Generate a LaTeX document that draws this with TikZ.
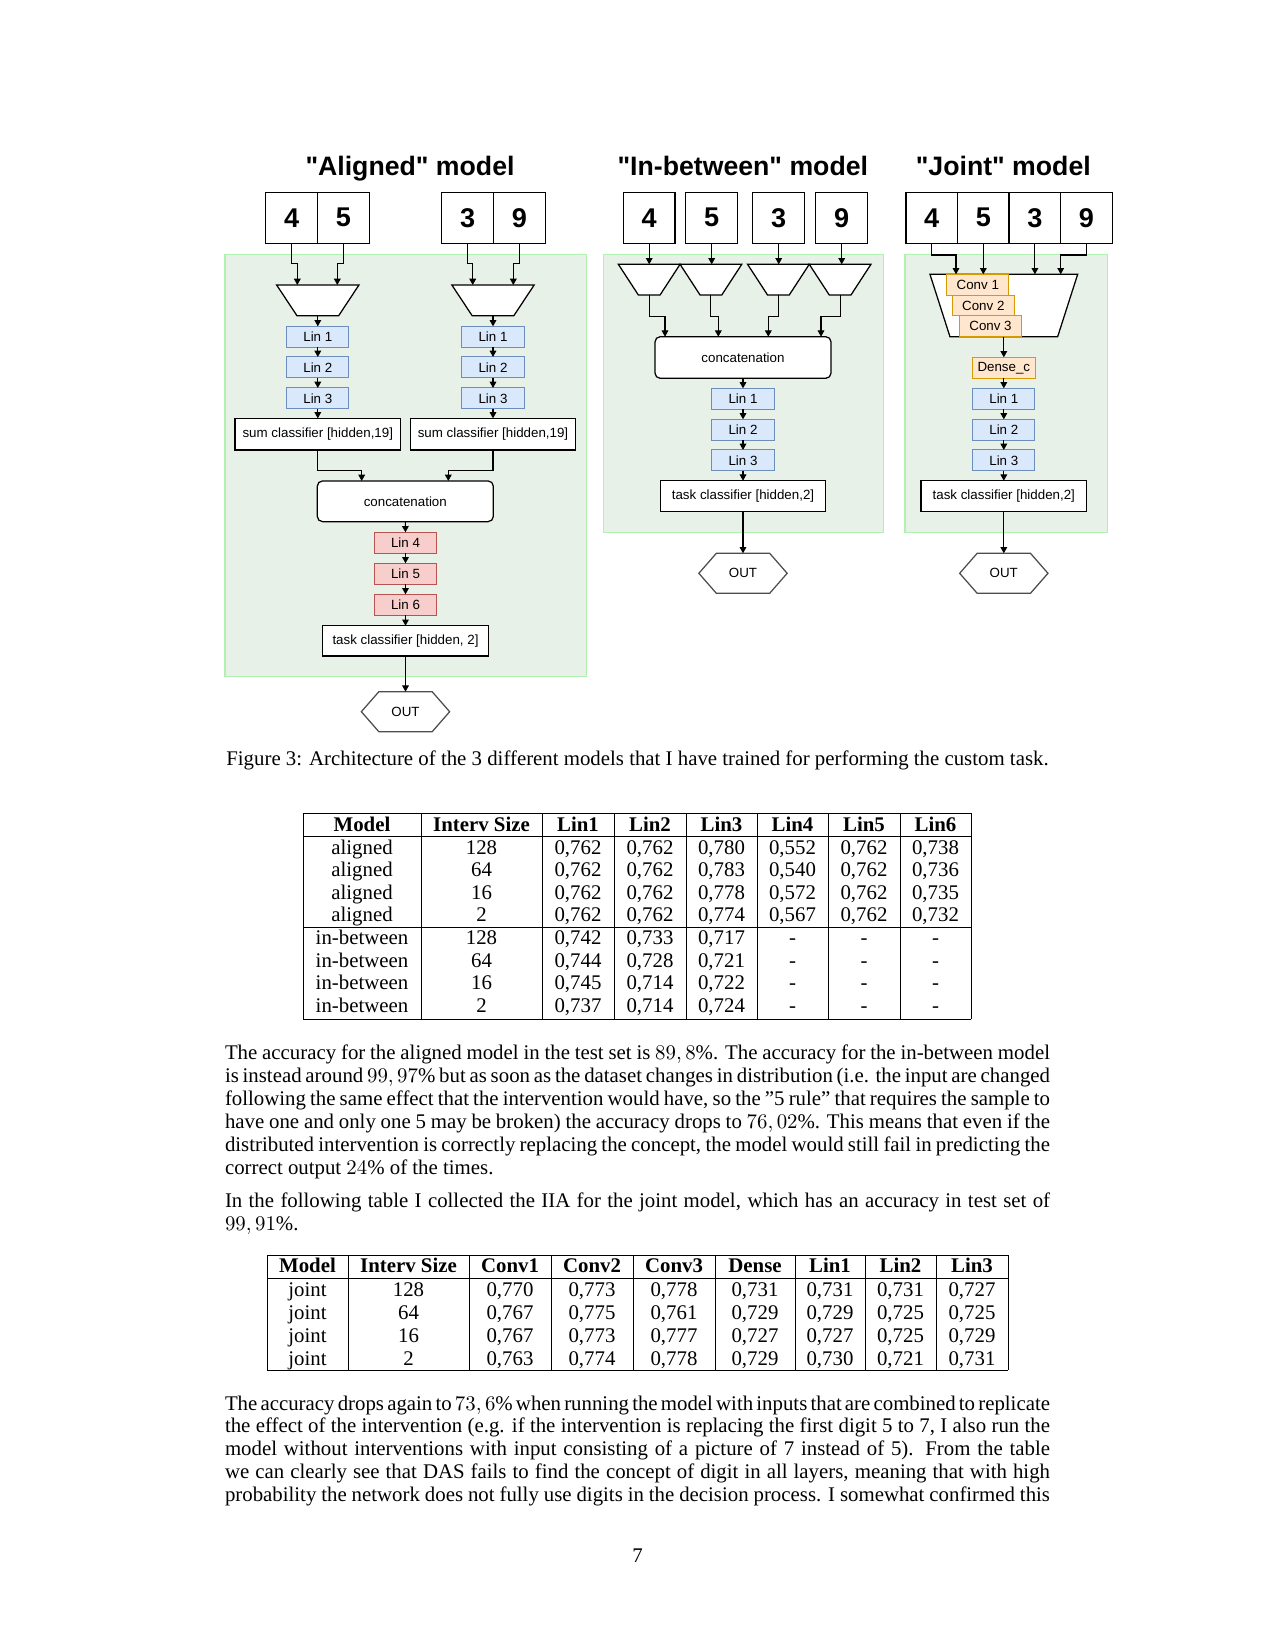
\documentclass[tikz,border=0pt]{standalone}
\usepackage{fontspec}
\setmainfont{Liberation Serif}
\newfontfamily\arialf{Liberation Sans}
\usetikzlibrary{calc,arrows.meta}
\newdimen\pxu \pxu=0.48pt
\definecolor{gfill}{HTML}{E8F1E8}
\definecolor{gborder}{HTML}{B0F0B0}
\definecolor{linbf}{HTML}{DAE8FC}
\definecolor{linbd}{HTML}{6C8EBF}
\definecolor{linrf}{HTML}{F8CECC}
\definecolor{linrd}{HTML}{B85450}
\definecolor{convf}{HTML}{FFE6CC}
\definecolor{convd}{HTML}{D79B00}
\definecolor{hexd}{HTML}{4D4D4D}
\newcommand\mytrap[2]{\draw[trapd] (#1.north west) -- (#1.north east) -- ($(#1.south east)+(-#2,0)$) -- ($(#1.south west)+(#2,0)$) -- cycle;}
\newcommand\myhex[1]{\draw[hexline] (#1.west) -- ($(#1.north west)+(17.5,0)$) -- ($(#1.north east)+(-17.5,0)$) -- (#1.east) -- ($(#1.south east)+(-17.5,0)$) -- ($(#1.south west)+(17.5,0)$) -- cycle;}
\tikzset{
  every node/.style={inner sep=0pt, outer sep=0pt},
  greenbg/.style={fill=gfill, draw=gborder, line width=0.6pt},
  cell/.style={draw=black, line width=0.6pt, fill=white, minimum width=52\pxu, minimum height=51\pxu, font=\arialf\bfseries\fontsize{13}{15}\selectfont},
  lbl/.style={font=\arialf\fontsize{6.4}{7.5}\selectfont},
  linb/.style={lbl, draw=linbd, fill=linbf, line width=0.5pt, minimum width=62.3\pxu, minimum height=20.7\pxu},
  linr/.style={lbl, draw=linrd, fill=linrf, line width=0.5pt, minimum width=62.3\pxu, minimum height=21\pxu},
  conv/.style={lbl, draw=convd, fill=convf, line width=0.5pt, minimum width=62.3\pxu, minimum height=20.7\pxu},
  wbox/.style={lbl, draw=black, fill=white, line width=0.6pt, minimum height=31\pxu},
  cbox/.style={lbl, draw=black, fill=white, line width=0.6pt, rounded corners=2.5pt, minimum width=176\pxu, minimum height=41\pxu},
  hexn/.style={lbl, minimum width=88.3\pxu, minimum height=40\pxu},
  hexline/.style={draw=hexd, line width=0.6pt},
  trapd/.style={draw=black, fill=white, line width=0.6pt},
  arr/.style={-{Triangle[length=3pt,width=3.2pt]}, line width=0.5pt},
  titl/.style={anchor=base, font=\arialf\bfseries\fontsize{12.8}{15}\selectfont},
  tc/.style={anchor=base, font=\fontsize{10}{12}\selectfont},
  th/.style={anchor=base, font=\fontsize{10}{12}\selectfont\bfseries},
  tline/.style={line width=0.4pt},
  para/.style={anchor=base west, text width=396pt, align=justify, font=\fontsize{10}{11}\selectfont},
}
\begin{document}
\begin{tikzpicture}[x=0.48pt,y=-0.48pt]
\fill[white] (0,0) rectangle (1275,1650);
\useasboundingbox (0,0) rectangle (1275,1650);

% ---------- backgrounds ----------
\path[greenbg] (225,254.3) rectangle (586.7,676.7);
\path[greenbg] (603.3,254.3) rectangle (883.3,532.3);
\path[greenbg] (905,254.3) rectangle (1107.3,532.3);

% ---------- Aligned model ----------
\node[titl] (tA) at (410,175.5) {"Aligned" model};
\node[cell] (a4) at (291.7,217.8) {4};
\node[cell] (a5) at (343.5,217.8) {5};
\node[cell] (b3) at (467.7,217.8) {3};
\node[cell] (b9) at (519.3,217.8) {9};

\node[minimum width=82.3\pxu, minimum height=30.7\pxu] (trA) at (317.8,300.35) {};
\mytrap{trA}{20.3}
\node[minimum width=82.3\pxu, minimum height=30.7\pxu] (trB) at (493,300.35) {};
\mytrap{trB}{20.3}

\draw[arr] (a4.south) -- ++(0,20) -| ($(trA.north)+(-20.5,0)$);
\draw[arr] (a5.south) -- ++(0,20) -| ($(trA.north)+(19.5,0)$);
\draw[arr] (b3.south) -- ++(0,20) -| ($(trB.north)+(-20.3,0)$);
\draw[arr] (b9.south) -- ++(0,20) -| ($(trB.north)+(20.3,0)$);

\node[linb] (aL1) at (317.8,336.7) {Lin 1};
\node[linb] (aL2) at (317.8,367.3) {Lin 2};
\node[linb] (aL3) at (317.8,398.3) {Lin 3};
\node[linb] (bL1) at (493,336.7) {Lin 1};
\node[linb] (bL2) at (493,367.3) {Lin 2};
\node[linb] (bL3) at (493,398.3) {Lin 3};
\node[wbox, minimum width=165.7\pxu, minimum height=31.7\pxu] (sumL) at (317.8,434.2) {sum classifier [hidden,19]};
\node[wbox, minimum width=165.7\pxu, minimum height=31.7\pxu] (sumR) at (493,434.2) {sum classifier [hidden,19]};

\draw[arr] (trA.south) -- (aL1.north);
\draw[arr] (aL1.south) -- (aL2.north);
\draw[arr] (aL2.south) -- (aL3.north);
\draw[arr] (aL3.south) -- (sumL.north);
\draw[arr] (trB.south) -- (bL1.north);
\draw[arr] (bL1.south) -- (bL2.north);
\draw[arr] (bL2.south) -- (bL3.north);
\draw[arr] (bL3.south) -- (sumR.north);

\node[cbox, minimum height=40.7\pxu] (concA) at (405.3,501.3) {concatenation};
\draw[arr] (sumL.south) -- ++(0,20.7) -| ($(concA.north)+(-43.6,0)$);
\draw[arr] (sumR.south) -- ++(0,20.7) -| ($(concA.north)+(43,0)$);

\node[linr] (aL4) at (405.5,542.8) {Lin 4};
\node[linr] (aL5) at (405.5,573.8) {Lin 5};
\node[linr] (aL6) at (405.5,604.8) {Lin 6};
\node[wbox, minimum width=166\pxu, minimum height=30.3\pxu] (taskA) at (405.5,640.9) {task classifier [hidden, 2]};
\node[hexn] (outA) at (405.5,711.7) {OUT};
\myhex{outA}

\draw[arr] (concA.south) -- (aL4.north);
\draw[arr] (aL4.south) -- (aL5.north);
\draw[arr] (aL5.south) -- (aL6.north);
\draw[arr] (aL6.south) -- (taskA.north);
\draw[arr] (taskA.south) -- (outA.north);

% ---------- In-between model ----------
\node[titl] (tB) at (742.8,175.5) {"In-between" model};
\node[cell, minimum width=51.7\pxu] (i4) at (649.2,217.8) {4};
\node[cell, minimum width=51.7\pxu] (i5) at (711.7,217.8) {5};
\node[cell, minimum width=51.7\pxu] (i3) at (778.7,217.8) {3};
\node[cell, minimum width=51.7\pxu] (i9) at (841.7,217.8) {9};

\node[minimum width=61.7\pxu, minimum height=30.7\pxu] (t1) at (649.2,279.65) {};
\node[minimum width=61.7\pxu, minimum height=30.7\pxu] (t2) at (710.9,279.65) {};
\node[minimum width=61.7\pxu, minimum height=30.7\pxu] (t3) at (778.4,279.65) {};
\node[minimum width=61.7\pxu, minimum height=30.7\pxu] (t4) at (840.1,279.65) {};
\mytrap{t1}{20}
\mytrap{t2}{20}
\mytrap{t3}{20}
\mytrap{t4}{20}

\draw[arr] (i4.south) -- (i4.south |- t1.north);
\draw[arr] (i5.south) -- (i5.south |- t2.north);
\draw[arr] (i3.south) -- (i3.south |- t3.north);
\draw[arr] (i9.south) -- (i9.south |- t4.north);

\node[cbox, minimum height=41.6\pxu] (concB) at (743,357.5) {concatenation};
\draw[arr] (t1.south) -- ++(0,21.7) -| ($(concB.north)+(-78,0)$);
\draw[arr] (t2.south) -- ++(0,21.7) -| ($(concB.north)+(-24.7,0)$);
\draw[arr] (t3.south) -- ++(0,21.7) -| ($(concB.north)+(25.3,0)$);
\draw[arr] (t4.south) -- ++(0,21.7) -| ($(concB.north)+(78,0)$);

\node[linb] (iL1) at (743,398.7) {Lin 1};
\node[linb] (iL2) at (743,429.7) {Lin 2};
\node[linb] (iL3) at (743,460.3) {Lin 3};
\node[wbox, minimum width=165\pxu] (taskB) at (743,496.2) {task classifier [hidden,2]};
\node[hexn] (outB) at (743,573.3) {OUT};
\myhex{outB}

\draw[arr] (concB.south) -- (iL1.north);
\draw[arr] (iL1.south) -- (iL2.north);
\draw[arr] (iL2.south) -- (iL3.north);
\draw[arr] (iL3.south) -- (taskB.north);
\draw[arr] (taskB.south) -- (outB.north);

% ---------- Joint model ----------
\node[titl] (tC) at (1003.3,175.5) {"Joint" model};
\node[cell, minimum width=51.6\pxu] (j4) at (931.7,217.8) {4};
\node[cell, minimum width=51.6\pxu] (j5) at (983.3,217.8) {5};
\node[cell, minimum width=51.6\pxu] (j3) at (1034.9,217.8) {3};
\node[cell, minimum width=51.6\pxu] (j9) at (1086.5,217.8) {9};

\node[minimum width=147.7\pxu, minimum height=62.4\pxu] (trC) at (1003.8,305.5) {};
\mytrap{trC}{20}

\draw[arr] (j4.south) -- ++(0,11.7) -| ($(trC.north)+(-47.8,0)$);
\draw[arr] (j5.south) -- (j5.south |- trC.north);
\draw[arr] (j3.south) -- (j3.south |- trC.north);
\draw[arr] (j9.south) -- ++(0,11.7) -| ($(trC.north)+(56.9,0)$);

\node[conv] (c1) at (977.8,284.7) {Conv 1};
\node[conv] (c2) at (983.3,305.5) {Conv 2};
\node[conv] (c3) at (990.5,326.3) {Conv 3};
\node[conv, minimum width=62.7\pxu, minimum height=21\pxu] (dense) at (1003.8,367.8) {Dense\_c};
\node[linb] (jL1) at (1003.8,398.7) {Lin 1};
\node[linb] (jL2) at (1003.8,429.7) {Lin 2};
\node[linb] (jL3) at (1003.8,460.3) {Lin 3};
\node[wbox, minimum width=165.7\pxu] (taskC) at (1003.8,496.2) {task classifier [hidden,2]};
\node[hexn] (outC) at (1003.8,573.3) {OUT};
\myhex{outC}

\draw[arr] (trC.south) -- (dense.north);
\draw[arr] (dense.south) -- (jL1.north);
\draw[arr] (jL1.south) -- (jL2.north);
\draw[arr] (jL2.south) -- (jL3.north);
\draw[arr] (jL3.south) -- (taskC.north);
\draw[arr] (taskC.south) -- (outC.north);

% ---------- caption ----------
\node[anchor=base, font=\fontsize{10}{12}\selectfont] (cap) at (637.5,765) {Figure 3: Architecture of the 3 different models that I have trained for performing the custom task.};

% ---------- table 1 ----------
\foreach \yy in {813,836,927,1019} \draw[tline] (303,\yy) -- (971,\yy);
\foreach \xx in {303,421,542,614,686,757,828,900,971} \draw[tline] (\xx,813) -- (\xx,1019);
\foreach \h/\xx [count=\k] in {Model/362,Interv Size/481.5,Lin1/578,Lin2/650,Lin3/721.5,Lin4/792.5,Lin5/864,Lin6/935.5}
  \node[th] (ta-h-\k) at (\xx,831.5) {\h};
\foreach \m/\s/\va/\vb/\vc/\vd/\ve/\vf [count=\i] in {
  aligned/128/0{,}762/0{,}762/0{,}780/0{,}552/0{,}762/0{,}738,
  aligned/64/0{,}762/0{,}762/0{,}783/0{,}540/0{,}762/0{,}736,
  aligned/16/0{,}762/0{,}762/0{,}778/0{,}572/0{,}762/0{,}735,
  aligned/2/0{,}762/0{,}762/0{,}774/0{,}567/0{,}762/0{,}732,
  in-between/128/0{,}742/0{,}733/0{,}717/-/-/-,
  in-between/64/0{,}744/0{,}728/0{,}721/-/-/-,
  in-between/16/0{,}745/0{,}714/0{,}722/-/-/-,
  in-between/2/0{,}737/0{,}714/0{,}724/-/-/-}{
  \pgfmathsetmacro\yb{854+22.6*(\i-1)}
  \node[tc] (ta-\i-1) at (362,\yb) {\m};
  \node[tc] (ta-\i-2) at (481.5,\yb) {\s};
  \node[tc] (ta-\i-3) at (578,\yb) {\va};
  \node[tc] (ta-\i-4) at (650,\yb) {\vb};
  \node[tc] (ta-\i-5) at (721.5,\yb) {\vc};
  \node[tc] (ta-\i-6) at (792.5,\yb) {\vd};
  \node[tc] (ta-\i-7) at (864,\yb) {\ve};
  \node[tc] (ta-\i-8) at (935.5,\yb) {\vf};
}

% ---------- paragraphs ----------
\node[para] (p1) at (225,1059.5) {The accuracy for the aligned model in the test set is $89,8\%$. The accuracy for the in-between model\linebreak is instead around $99,97\%$ but as soon as the dataset changes in distribution (i.e. the input are changed\linebreak following the same effect that the intervention would have, so the "5 rule" that requires the sample to\linebreak have one and only one 5 may be broken) the accuracy drops to $76,02\%$. This means that even if the\linebreak distributed intervention is correctly replacing the concept, the model would still fail in predicting the\linebreak correct output $24\%$ of the times.};

\node[para] (p2) at (225,1207.5) {In the following table I collected the IIA for the joint model, which has an accuracy in test set of\linebreak $99,91\%$.};

% ---------- table 2 ----------
\foreach \yy in {1255,1278,1370} \draw[tline] (267,\yy) -- (1008,\yy);
\foreach \xx in {267,348,469,551,633,715,795,865,936,1008} \draw[tline] (\xx,1255) -- (\xx,1370);
\foreach \h/\xx [count=\k] in {Model/307.5,Interv Size/408.5,Conv1/510,Conv2/592,Conv3/674,Dense/755,Lin1/830,Lin2/900.5,Lin3/972}
  \node[th] (tb-h-\k) at (\xx,1272.5) {\h};
\foreach \s/\va/\vb/\vc/\vd/\ve/\vf/\vg [count=\i] in {
  128/0{,}770/0{,}773/0{,}778/0{,}731/0{,}731/0{,}731/0{,}727,
  64/0{,}767/0{,}775/0{,}761/0{,}729/0{,}729/0{,}725/0{,}725,
  16/0{,}767/0{,}773/0{,}777/0{,}727/0{,}727/0{,}725/0{,}729,
  2/0{,}763/0{,}774/0{,}778/0{,}729/0{,}730/0{,}721/0{,}731}{
  \pgfmathsetmacro\yb{1296+23*(\i-1)}
  \node[tc] (tb-\i-1) at (307.5,\yb) {joint};
  \node[tc] (tb-\i-2) at (408.5,\yb) {\s};
  \node[tc] (tb-\i-3) at (510,\yb) {\va};
  \node[tc] (tb-\i-4) at (592,\yb) {\vb};
  \node[tc] (tb-\i-5) at (674,\yb) {\vc};
  \node[tc] (tb-\i-6) at (755,\yb) {\vd};
  \node[tc] (tb-\i-7) at (830,\yb) {\ve};
  \node[tc] (tb-\i-8) at (900.5,\yb) {\vf};
  \node[tc] (tb-\i-9) at (972,\yb) {\vg};
}

\node[para] (p3) at (225,1410) {\parfillskip=0pt \spaceskip=0.25em plus 0.16em minus 0.14em\relax \hbox to \linewidth{The accuracy drops again to $73,6\%$ when running the model with inputs that are combined to replicate}\linebreak the effect of the intervention (e.g. if the intervention is replacing the first digit 5 to 7, I also run the\linebreak model without interventions with input consisting of a picture of 7 instead of 5). From the table\linebreak we can clearly see that DAS fails to find the concept of digit in all layers, meaning that with high\linebreak probability the network does not fully use digits in the decision process. I somewhat confirmed this};

\node[anchor=base, font=\fontsize{10}{12}\selectfont] (pg) at (637.5,1562) {7};
\end{tikzpicture}
\end{document}
